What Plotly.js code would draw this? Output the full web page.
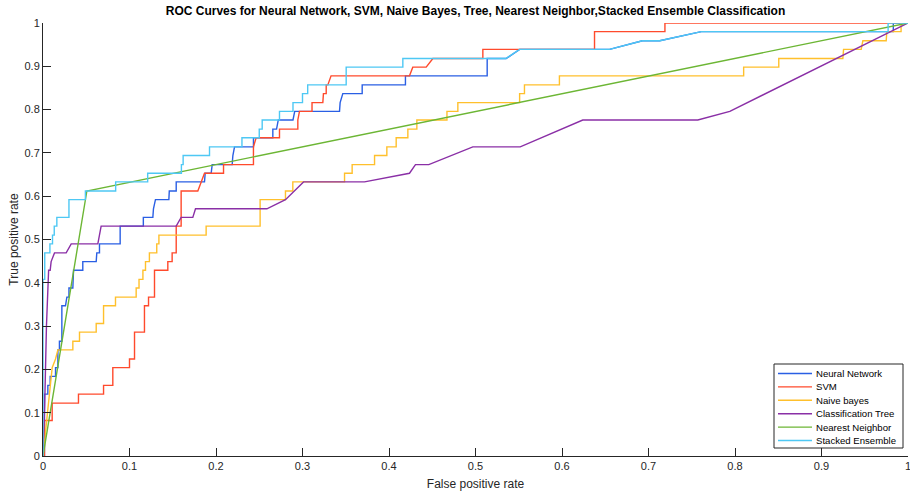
<!DOCTYPE html>
<html><head><meta charset="utf-8">
<script src="https://cdn.plot.ly/plotly-3.0.1.min.js"></script>
<style>html,body{margin:0;padding:0;background:#fff}#chart{width:910px;height:493px}</style>
</head><body><div id="chart"></div>
<script>
// ---------------- DATA ----------------
const chartTitle = 'ROC Curves for Neural Network, SVM, Naive Bayes, Tree, Nearest Neighbor,Stacked Ensemble Classification';
const xTitle = 'False positive rate';
const yTitle = 'True positive rate';
const seriesNames = ['Neural Network', 'SVM', 'Naive bayes', 'Classification Tree', 'Nearest Neighbor', 'Stacked Ensemble'];
const tickVals = [0, 0.1, 0.2, 0.3, 0.4, 0.5, 0.6, 0.7, 0.8, 0.9, 1];
const tickText = ['0', '0.1', '0.2', '0.3', '0.4', '0.5', '0.6', '0.7', '0.8', '0.9', '1'];

const nnFpr = [0,0.0017,0.0017,0.0056,0.0056,0.0083,0.0083,0.0145,0.0145,0.0172,0.0172,0.019,0.019,0.0218,0.0218,0.026,0.0276,0.030,0.030,0.0345,0.0353,0.046,0.046,0.0615,0.0622,0.0653,0.0653,0.0892,0.0892,0.116,0.116,0.127,0.1277,0.130,0.1455,0.146,0.154,0.154,0.1867,0.1875,0.1944,0.1956,0.2187,0.2195,0.2214,0.2433,0.2433,0.2657,0.2657,0.270,0.272,0.289,0.291,0.3428,0.3435,0.3466,0.369,0.369,0.419,0.419,0.5135,0.5135,0.5355,0.551,0.655,0.693,0.713,0.761,0.983,0.983,1];
const nnTpr = [0,0,0.143,0.143,0.163,0.163,0.184,0.184,0.204,0.204,0.245,0.245,0.265,0.265,0.347,0.347,0.367,0.367,0.388,0.388,0.429,0.429,0.449,0.449,0.469,0.469,0.49,0.49,0.531,0.531,0.551,0.551,0.571,0.592,0.592,0.612,0.612,0.633,0.633,0.653,0.653,0.673,0.673,0.694,0.714,0.714,0.735,0.735,0.755,0.755,0.776,0.776,0.796,0.796,0.816,0.837,0.837,0.857,0.857,0.878,0.878,0.918,0.918,0.939,0.939,0.959,0.959,0.98,0.98,1,1];

const svmFpr = [0,0.0017,0.0017,0.0106,0.0106,0.041,0.041,0.070,0.070,0.0807,0.0807,0.100,0.100,0.1058,0.1058,0.1173,0.1173,0.122,0.122,0.1289,0.1289,0.1443,0.1443,0.1493,0.1493,0.154,0.154,0.1597,0.1597,0.179,0.1867,0.2087,0.2087,0.2433,0.2433,0.2464,0.2734,0.2734,0.2946,0.2946,0.2965,0.311,0.311,0.3235,0.3242,0.3274,0.3274,0.3293,0.333,0.4237,0.4275,0.443,0.4507,0.5085,0.5085,0.6376,0.6376,0.719,0.719,1];
const svmTpr = [0,0,0.082,0.082,0.122,0.122,0.143,0.143,0.163,0.163,0.204,0.204,0.224,0.224,0.286,0.286,0.347,0.347,0.367,0.367,0.429,0.429,0.449,0.449,0.469,0.469,0.531,0.531,0.612,0.612,0.653,0.653,0.673,0.673,0.714,0.735,0.735,0.755,0.755,0.776,0.796,0.796,0.816,0.816,0.837,0.837,0.857,0.857,0.878,0.878,0.898,0.898,0.918,0.918,0.939,0.939,0.98,0.98,1,1];

const nbFpr = [0,0.0075,0.0083,0.0095,0.0106,0.0145,0.0172,0.0345,0.0345,0.0422,0.0422,0.0615,0.0615,0.070,0.070,0.0838,0.0838,0.1077,0.1077,0.111,0.111,0.1155,0.1155,0.1185,0.1185,0.123,0.123,0.1315,0.1315,0.134,0.134,0.1886,0.1886,0.251,0.251,0.2803,0.2803,0.2888,0.2888,0.3486,0.3486,0.3574,0.3574,0.3833,0.3833,0.3975,0.3975,0.4083,0.4083,0.4218,0.4218,0.4322,0.4322,0.467,0.467,0.4796,0.4796,0.551,0.551,0.5566,0.5566,0.597,0.597,0.81,0.81,0.8506,0.8506,0.9247,0.9255,0.9459,0.9478,0.9748,0.9755,0.992,0.992,1];
const nbTpr = [0,0.143,0.163,0.184,0.204,0.224,0.245,0.245,0.265,0.265,0.286,0.286,0.306,0.306,0.347,0.347,0.367,0.367,0.388,0.388,0.408,0.408,0.429,0.429,0.449,0.449,0.469,0.469,0.49,0.49,0.51,0.51,0.531,0.531,0.592,0.592,0.612,0.612,0.633,0.633,0.653,0.653,0.673,0.673,0.694,0.694,0.714,0.714,0.735,0.735,0.755,0.755,0.776,0.776,0.796,0.796,0.816,0.816,0.837,0.837,0.857,0.857,0.878,0.878,0.898,0.898,0.918,0.918,0.939,0.939,0.959,0.959,0.98,0.98,1,1];

const treeFpr = [0,0.002,0.004,0.0065,0.0083,0.0094,0.0133,0.0268,0.0326,0.0634,0.0672,0.154,0.1597,0.1732,0.1763,0.2588,0.2803,0.3012,0.3717,0.4237,0.4306,0.446,0.4969,0.5517,0.624,0.757,0.794,1];
const treeTpr = [0,0.122,0.3,0.429,0.429,0.449,0.469,0.469,0.49,0.49,0.531,0.531,0.551,0.551,0.571,0.571,0.592,0.633,0.633,0.653,0.673,0.673,0.714,0.714,0.776,0.776,0.796,1];

const knnFpr = [0, 0.0507, 1];
const knnTpr = [0, 0.612, 1];

const stackFpr = [0,0,0.002,0.002,0.008,0.008,0.011,0.011,0.013,0.013,0.016,0.016,0.030,0.030,0.049,0.049,0.084,0.084,0.121,0.121,0.160,0.160,0.162,0.162,0.1925,0.1925,0.230,0.230,0.250,0.250,0.2534,0.2534,0.2734,0.2734,0.289,0.289,0.300,0.300,0.306,0.306,0.3505,0.3505,0.416,0.416,0.535,0.551,0.655,0.693,0.713,0.761,0.977,0.977,1];
const stackTpr = [0,0.408,0.408,0.469,0.469,0.49,0.49,0.51,0.51,0.531,0.531,0.551,0.551,0.592,0.592,0.612,0.612,0.633,0.633,0.653,0.653,0.673,0.673,0.694,0.694,0.714,0.714,0.735,0.735,0.755,0.755,0.776,0.776,0.796,0.796,0.816,0.816,0.837,0.837,0.857,0.857,0.898,0.898,0.918,0.918,0.939,0.939,0.959,0.959,0.98,0.98,1,1];

// ---------------- STYLE ----------------
const seriesColors = ['#2a5fe4', '#ff4a2c', '#ffc02c', '#8a2fa6', '#6cb634', '#4ec8f4'];
const fontFam = 'Arial, "Liberation Sans", Helvetica, sans-serif';
const axisColor = '#262626';
const W = 910, H = 493;
const M = {l: 43, r: 2, t: 23, b: 37};
const plotW = W - M.l - M.r, plotH = H - M.t - M.b;
const px2x = p => (p - M.l) / plotW;
const py2y = p => (H - M.b - p) / plotH;

const xs = [nnFpr, svmFpr, nbFpr, treeFpr, knnFpr, stackFpr];
const ys = [nnTpr, svmTpr, nbTpr, treeTpr, knnTpr, stackTpr];

const traces = seriesNames.map((n, i) => ({
  type: 'scatter', mode: 'lines', name: n,
  x: xs[i], y: ys[i],
  line: {color: seriesColors[i], width: 1.4},
  hoverinfo: 'skip'
}));

// custom MATLAB-like legend box
const legBox = {left: 774, right: 903, top: 364, bottom: 448};
const legRow0 = 373.5, legRowStep = 13.4;
const legLineX0 = 778, legLineX1 = 812, legTextX = 814;
const shapes = [{
  type: 'rect', xref: 'paper', yref: 'paper',
  x0: px2x(legBox.left), x1: px2x(legBox.right), y0: py2y(legBox.bottom), y1: py2y(legBox.top),
  line: {color: axisColor, width: 1}, fillcolor: '#ffffff', layer: 'above'
}];
const annotations = [];
seriesNames.forEach((n, i) => {
  const yy = py2y(legRow0 + i * legRowStep);
  shapes.push({type: 'line', xref: 'paper', yref: 'paper',
    x0: px2x(legLineX0), x1: px2x(legLineX1), y0: yy, y1: yy,
    line: {color: seriesColors[i], width: 1.4}, layer: 'above'});
  annotations.push({xref: 'paper', yref: 'paper', x: px2x(legTextX), y: yy,
    xanchor: 'left', yanchor: 'middle', showarrow: false, text: n,
    font: {family: fontFam, size: 9.6, color: '#000'}});
});

const axisCommon = {
  range: [0, 1], tickvals: tickVals, ticktext: tickText,
  showgrid: false, zeroline: false, showline: true, mirror: false,
  linecolor: axisColor, linewidth: 1, ticks: 'inside', ticklen: 8, tickwidth: 1,
  tickcolor: axisColor, tickfont: {family: fontFam, size: 11, color: axisColor},
  ticklabeloverflow: 'allow',
  fixedrange: true, automargin: false
};

const layout = {
  width: W, height: H, margin: M,
  paper_bgcolor: '#ffffff', plot_bgcolor: '#ffffff',
  showlegend: false,
  title: {text: chartTitle, font: {family: fontFam, size: 12, color: '#000', weight: 'bold'},
    xref: 'paper', x: 0.5, xanchor: 'center', yref: 'container', y: 1 - 11 / H, yanchor: 'middle'},
  xaxis: Object.assign({}, axisCommon, {
    title: {text: xTitle, font: {family: fontFam, size: 12, color: axisColor}, standoff: 8}
  }),
  yaxis: Object.assign({}, axisCommon, {
    title: {text: yTitle, font: {family: fontFam, size: 12, color: axisColor}, standoff: 3}
  }),
  shapes: shapes, annotations: annotations
};

Plotly.newPlot('chart', traces, layout, {displayModeBar: false, staticPlot: true});
</script>
</body></html>
